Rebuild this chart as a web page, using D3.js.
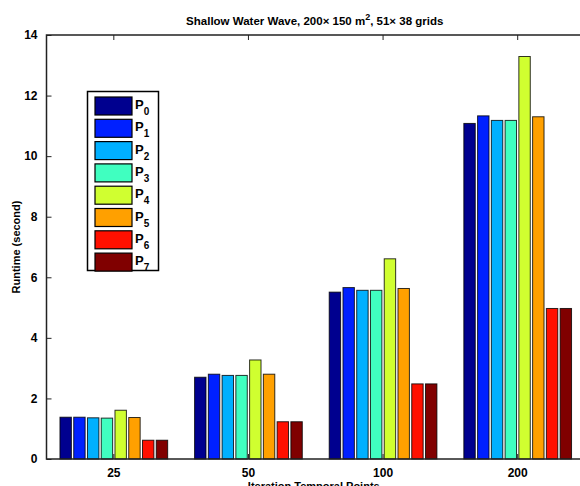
<!DOCTYPE html>
<html>
<head>
<meta charset="utf-8">
<script src="https://d3js.org/d3.v7.min.js"></script>
<style>
  body { margin: 0; background: #fff; }
  text { font-family: "Liberation Sans", Arial, sans-serif; font-weight: bold; }
</style>
</head>
<body>
<svg width="580" height="486"></svg>
<script>
// data
const categories = ['25', '50', '100', '200'];
const seriesNames = ['0', '1', '2', '3', '4', '5', '6', '7'];
const P0 = [1.38, 2.70, 5.51, 11.08];
const P1 = [1.38, 2.80, 5.66, 11.33];
const P2 = [1.36, 2.76, 5.57, 11.18];
const P3 = [1.35, 2.76, 5.57, 11.18];
const P4 = [1.61, 3.27, 6.61, 13.29];
const P5 = [1.37, 2.80, 5.63, 11.30];
const P6 = [0.62, 1.23, 2.48, 4.97];
const P7 = [0.62, 1.23, 2.48, 4.97];
const series = [P0, P1, P2, P3, P4, P5, P6, P7];
const yTicks = [0, 2, 4, 6, 8, 10, 12, 14];

const colors = ['#00008f', '#0020ff', '#00b0ff', '#40ffc0', '#d0ff30', '#ffa000', '#ff1000', '#800000'];

let plotL = 46.5, plotR = 585, plotT = 35, plotB = 459;

let svg = d3.select('svg');

let x0 = d3.scaleBand()
           .domain(categories)
           .range([plotL, plotR])
           .paddingInner(0.2)
           .paddingOuter(0.1);

let x1 = d3.scaleBand()
           .domain(seriesNames)
           .range([0, x0.bandwidth()])
           .paddingInner(0.17);

let y = d3.scaleLinear()
          .domain([0, 14])
          .range([plotB, plotT]);

// bars
let groups = svg.selectAll('g.group')
                .data(categories)
                .enter()
                .append('g')
                .attr('class', 'group')
                .attr('transform', d => `translate(${x0(d)},0)`);

groups.selectAll('rect')
      .data((c, ci) => series.map((s, si) => ({ k: seriesNames[si], v: s[ci], col: colors[si] })))
      .enter()
      .append('rect')
      .attr('x', d => x1(d.k))
      .attr('y', d => y(d.v))
      .attr('width', x1.bandwidth())
      .attr('height', d => plotB - y(d.v))
      .attr('fill', d => d.col)
      .attr('stroke', '#000')
      .attr('stroke-opacity', 0.8)
      .attr('stroke-width', 1);

// axes
let yAxis = d3.axisLeft(y).tickValues(yTicks).tickSize(-5).tickPadding(9).tickFormat(d3.format('d'));
let yAxisR = d3.axisRight(y).tickValues(yTicks).tickSize(-5).tickFormat('');
let xAxis = d3.axisBottom(x0).tickSize(-5).tickPadding(9);
let xAxisT = d3.axisTop(x0).tickSize(-5).tickFormat('');

function styleAxis(g) {
  g.select('.domain').remove();
  g.selectAll('line').attr('stroke', '#222');
  g.selectAll('text').attr('font-size', 12).attr('fill', '#000');
}

svg.append('g').attr('transform', `translate(${plotL},0)`).call(yAxis).call(styleAxis);
svg.append('g').attr('transform', `translate(${plotR},0)`).call(yAxisR).call(styleAxis);
svg.append('g').attr('transform', `translate(0,${plotB})`).call(xAxis).call(styleAxis);
svg.append('g').attr('transform', `translate(0,${plotT})`).call(xAxisT).call(styleAxis);

// box
svg.append('rect')
   .attr('x', plotL).attr('y', plotT)
   .attr('width', plotR - plotL).attr('height', plotB - plotT)
   .attr('fill', 'none')
   .attr('stroke', '#222')
   .attr('stroke-width', 1.5);

// title
let title = svg.append('text')
               .attr('x', (plotL + plotR) / 2 - 1)
               .attr('y', 25)
               .attr('text-anchor', 'middle')
               .attr('font-size', 11.5);
title.append('tspan').text('Shallow Water Wave, 200× 150 m');
title.append('tspan').attr('font-size', 9).attr('dy', -5).text('2');
title.append('tspan').attr('dy', 5).text(', 51× 38 grids');

// axis labels
svg.append('text')
   .attr('transform', `translate(20,${(plotT + plotB) / 2}) rotate(-90)`)
   .attr('text-anchor', 'middle')
   .attr('font-size', 11)
   .text('Runtime (second)');

svg.append('text')
   .attr('x', (plotL + plotR) / 2 - 2)
   .attr('y', 490)
   .attr('text-anchor', 'middle')
   .attr('font-size', 11)
   .text('Iteration Temporal Points');

// legend
let lg = svg.append('g');
lg.append('rect')
  .attr('x', 87.5).attr('y', 91.5)
  .attr('width', 71).attr('height', 179)
  .attr('fill', '#fff')
  .attr('stroke', '#000')
  .attr('stroke-width', 1.5);

let items = lg.selectAll('g.item')
              .data(seriesNames)
              .enter()
              .append('g')
              .attr('class', 'item')
              .attr('transform', (d, i) => `translate(95,${97 + i * 22.3})`);

items.append('rect')
     .attr('width', 37).attr('height', 18)
     .attr('fill', (d, i) => colors[i])
     .attr('stroke', '#000')
     .attr('stroke-width', 1.2);

let lt = items.append('text')
              .attr('x', 40).attr('y', 12)
              .attr('font-size', 13);
lt.append('tspan').text('P');
lt.append('tspan').attr('font-size', 10).attr('dy', 6).text(d => d);
</script>
</body>
</html>
